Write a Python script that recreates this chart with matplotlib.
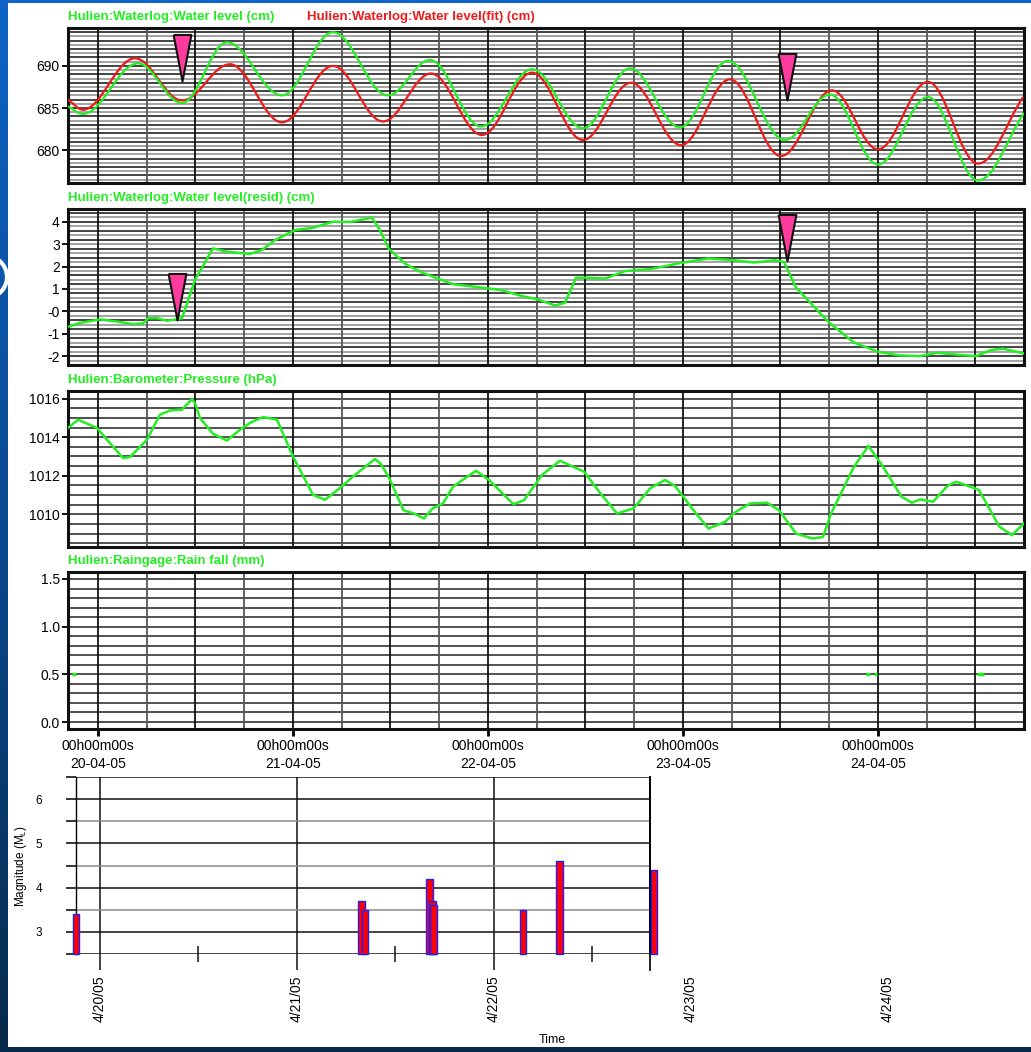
import numpy as np
import matplotlib
matplotlib.use('Agg')
from matplotlib import pyplot as plt
from matplotlib.path import Path
from matplotlib.patches import PathPatch, Rectangle, Circle
from matplotlib.transforms import blended_transform_factory

plt.rcParams['font.family'] = ['Liberation Sans', 'DejaVu Sans']
plt.rcParams['mathtext.default'] = 'regular'

# upper panels: time in hours after 20-04-05 00h00m00s
# water level, observed and fit (turning points of the tide curve)
wl_t = [-3.69, -1.85, 4.92, 10.34, 15.88, 22.65, 28.92, 35.69, 40.86, 47.14, 53.42,
        59.69, 65.48, 71.63, 77.54, 84.55, 90.09, 96.0, 102.15, 108.31, 113.97]
wl_v = [685.2, 684.3, 690.3, 685.6, 692.8, 686.5, 694.0, 686.5, 690.7, 682.8, 689.6,
        682.6, 689.7, 682.7, 690.6, 681.2, 686.6, 678.3, 686.3, 676.4, 684.4]
fit_t = [-3.69, -1.85, 4.55, 10.34, 16.25, 22.65, 28.92, 35.08, 40.99, 47.26, 53.42,
         59.69, 65.60, 71.75, 77.78, 84.06, 90.34, 96.0, 102.15, 108.31, 113.85]
fit_v = [686.0, 684.8, 690.9, 685.9, 690.2, 683.3, 690.0, 683.4, 689.1, 681.8, 689.2,
         681.2, 688.0, 680.6, 688.4, 679.3, 687.1, 680.1, 688.1, 678.4, 686.3]

# residual water level (cm)
resid_t = [-3.69, -2.22, 0.25, 2.34, 4.31, 5.54, 6.15, 7.26, 8.49, 9.72, 10.34, 11.94,
           14.15, 15.88, 18.71, 20.18, 21.78, 24.25, 26.46, 28.92, 31.02, 33.72, 34.46,
           35.82, 37.85, 39.88, 43.69, 46.52, 49.6, 52.18, 54.15, 56.25, 57.48, 58.83,
           60.31, 62.4, 64.92, 67.94, 71.57, 75.14, 78.22, 80.74, 83.32, 84.43, 85.91,
           88.43, 89.97, 93.05, 96.12, 98.65, 101.17, 103.26, 105.8, 108.06, 109.91,
           111.38, 113.97]
resid_v = [-0.69, -0.52, -0.36, -0.46, -0.57, -0.54, -0.31, -0.31, -0.42, -0.36, -0.31, 1.40,
           2.81, 2.66, 2.56, 2.74, 3.18, 3.63, 3.73, 4.0, 3.99, 4.18, 3.78,
           2.78, 2.11, 1.73, 1.21, 1.09, 0.95, 0.68, 0.53, 0.26, 0.38, 1.50,
           1.50, 1.46, 1.80, 1.88, 2.15, 2.36, 2.28, 2.18, 2.28, 2.2, 1.06,
           0.09, -0.50, -1.40, -1.82, -1.97, -2.0, -1.85, -1.94, -2.0, -1.73,
           -1.67, -1.88]

# barometric pressure (hPa)
pres_t = [-3.69, -2.46, -0.12, 1.11, 3.08, 3.94, 6.03, 7.63, 8.86, 10.34, 11.57, 11.94,
          12.55, 14.15, 15.88, 17.48, 18.71, 20.31, 22.03, 24.0, 26.46, 27.94, 29.78,
          31.38, 34.09, 34.83, 35.82, 37.6, 38.89, 40.12, 41.17, 42.46, 43.69, 46.52,
          48.12, 51.14, 52.43, 54.65, 56.86, 59.82, 61.85, 63.88, 65.91, 67.94, 69.78,
          71.02, 73.6, 75.14, 77.17, 78.46, 80.25, 82.34, 83.82, 85.91, 87.94, 89.23,
          90.22, 93.05, 94.83, 96.62, 98.89, 100.18, 101.17, 102.77, 104.55, 105.6,
          107.38, 108.43, 110.95, 112.49, 113.97]
pres_v = [1014.48, 1014.91, 1014.48, 1013.87, 1012.92, 1012.97, 1013.87, 1015.17, 1015.39,
          1015.43, 1015.98, 1015.78, 1015.0, 1014.18, 1013.83, 1014.39, 1014.74, 1015.05,
          1014.91, 1013.0, 1011.01, 1010.75, 1011.36, 1011.96, 1012.87, 1012.6, 1011.9,
          1010.21, 1010.04, 1009.78, 1010.30, 1010.56, 1011.43, 1012.26, 1011.78, 1010.52,
          1010.73, 1012.04, 1012.78, 1012.21, 1011.08, 1010.04, 1010.30, 1011.34, 1011.78,
          1011.47, 1010.04, 1009.26, 1009.60, 1010.12, 1010.56, 1010.60, 1010.21, 1009.0,
          1008.74, 1008.82, 1010.04, 1012.47, 1013.55, 1012.47, 1010.91, 1010.60, 1010.77,
          1010.65, 1011.47, 1011.69, 1011.43, 1011.26, 1009.35, 1008.92, 1009.52]

# rain fall records (start hour, end hour, mm)
rain_t0 = [-3.2, 94.5, 95.5, 108.2]
rain_t1 = [-2.7, 95.0, 95.9, 109.0]
rain_v = [0.5, 0.5, 0.5, 0.5]

# event markers
event_t1 = [10.3, 84.8]
event_v1 = [688.2, 686.0]
event_t2 = [9.7, 84.8]
event_v2 = [-0.39, 2.25]

day_ticks = [0, 24, 48, 72, 96]
day_labels = ['00h00m00s\n20-04-05', '00h00m00s\n21-04-05', '00h00m00s\n22-04-05',
              '00h00m00s\n23-04-05', '00h00m00s\n24-04-05']

# earthquakes: days after 4/20/05 00:00, local magnitude
quake_day = [-0.122, 1.328, 1.346, 1.673, 1.690, 1.693, 2.148, 2.333, 2.814]
quake_mag = [3.4, 3.7, 3.5, 4.2, 3.7, 3.6, 3.5, 4.6, 4.4]
quake_dates = ['4/20/05', '4/21/05', '4/22/05', '4/23/05', '4/24/05']

GREEN = '#22ee22'
RED = '#ee1a1a'
PINK = '#ff3b9d'
T0, T1 = -3.69, 113.97

fig = plt.figure(figsize=(10.31, 10.52), dpi=100)

# slide background
bg = fig.add_axes([0, 0, 1, 1], zorder=-10)
grad = np.linspace(0, 1, 256).reshape(-1, 1)
bg.imshow(grad, aspect='auto', extent=[0, 1, 0, 1], origin='upper',
          cmap=matplotlib.colors.LinearSegmentedColormap.from_list('b', ['#0d63c6', '#0a4a90', '#082a4a']))
bg.add_patch(Circle((-0.14, 7.75), 0.21, transform=fig.dpi_scale_trans, fill=False,
                    ec='white', lw=3))
bg.add_patch(Rectangle((8 / 1031, 1 - 1047 / 1052), 1, 1044 / 1052, transform=bg.transAxes,
                       fc='white', ec='none'))
bg.set_xlim(0, 1)
bg.set_ylim(0, 1)
bg.axis('off')


def tide_path(t, v, k=0.36):
    verts = [(t[0], v[0])]
    codes = [Path.MOVETO]
    n = len(t)
    for i in range(n - 1):
        dt = t[i + 1] - t[i]
        c1 = (t[i] + k * dt, v[i])
        c2 = (t[i + 1] - k * dt, v[i + 1])
        if i == 0:
            c1 = (t[i] + k * dt, v[i] + k * (v[i + 1] - v[i]))
        if i == n - 2:
            c2 = (t[i + 1] - k * dt, v[i + 1] - k * (v[i + 1] - v[i]))
        verts += [c1, c2, (t[i + 1], v[i + 1])]
        codes += [Path.CURVE4] * 3
    return Path(verts, codes)


def panel(rect, ylo, yhi, step, yticks, ylabels, alt=True):
    ax = fig.add_axes(rect)
    ax.set_xlim(T0, T1)
    ax.set_ylim(ylo, yhi)
    lev = np.arange(np.ceil(ylo / step) * step, yhi, step)
    for y in lev:
        if alt:
            c = '#111111' if int(round(y / step)) % 2 == 0 else '#8a8a8a'
        else:
            c = '#222222'
        ax.axhline(y, color=c, lw=1.1, zorder=0)
    for h in range(0, 114, 6):
        c = '#111111' if h % 12 == 0 else '#555555'
        ax.axvline(h, color=c, lw=1.3, zorder=0)
    ax.set_yticks(yticks)
    ax.set_yticklabels(ylabels)
    ax.tick_params(axis='y', direction='out', length=4, width=1.3, labelsize=10, pad=2)
    ax.set_xticks([])
    for s in ax.spines.values():
        s.set_linewidth(2.2)
        s.set_color('#111111')
    return ax


def title(ax, text, color, xfrac=0.0):
    ax.annotate(text, xy=(xfrac, 1), xycoords='axes fraction', xytext=(0, 6),
                textcoords='offset points', va='baseline', ha='left', color=color,
                fontsize=9.5, fontweight='bold')


# panel 1: water level
ax1 = panel([68 / 1031, 1 - 183 / 1052, 956 / 1031, 155 / 1052], 676.1, 694.5, 0.5,
            [680, 685, 690], ['680', '685', '690'])
ax1.add_patch(PathPatch(tide_path(fit_t, fit_v), fill=False, ec=RED, lw=1.6, zorder=3))
ax1.add_patch(PathPatch(tide_path(wl_t, wl_v), fill=False, ec=GREEN, lw=1.6, zorder=4))
title(ax1, 'Hulien:Waterlog:Water level (cm)', GREEN)
title(ax1, 'Hulien:Waterlog:Water level(fit) (cm)', RED, (307 - 68) / 956)

tri = [(-9, 47), (9, 47), (0, 0), (-9, 47)]
ax1.plot(event_t1, event_v1, ls='none', marker=tri, ms=67, mfc=PINK, mec='#111111',
         mew=1.5, zorder=6, clip_on=False)

# panel 2: residual
ax2 = panel([68 / 1031, 1 - 365 / 1052, 956 / 1031, 156 / 1052], -2.4, 4.57, 0.2,
            [-2, -1, 0, 1, 2, 3, 4], ['-2', '-1', '-0', '1', '2', '3', '4'])
ax2.plot(resid_t, resid_v, color=GREEN, lw=1.8, zorder=4)
title(ax2, 'Hulien:Waterlog:Water level(resid) (cm)', GREEN)
ax2.plot(event_t2, event_v2, ls='none', marker=tri, ms=67, mfc=PINK, mec='#111111',
         mew=1.5, zorder=6, clip_on=False)

# panel 3: pressure
ax3 = panel([68 / 1031, 1 - 547 / 1052, 956 / 1031, 156 / 1052], 1008.3, 1016.4, 0.5,
            [1010, 1012, 1014, 1016], ['1010', '1012', '1014', '1016'], alt=False)
ax3.plot(pres_t, pres_v, color=GREEN, lw=1.8, zorder=4)
title(ax3, 'Hulien:Barometer:Pressure (hPa)', GREEN)

# panel 4: rain
ax4 = panel([68 / 1031, 1 - 729 / 1052, 956 / 1031, 157 / 1052], -0.073, 1.573, 0.1,
            [0.0, 0.5, 1.0, 1.5], ['0.0', '0.5', '1.0', '1.5'], alt=False)
ax4.hlines(rain_v, rain_t0, rain_t1, color=GREEN, lw=2.5, zorder=4)
title(ax4, 'Hulien:Raingage:Rain fall (mm)', GREEN)
ax4.set_xticks(day_ticks)
ax4.set_xticklabels(day_labels, linespacing=1.35)
ax4.tick_params(axis='x', direction='out', length=5, width=2, labelsize=10, pad=2)

# bottom panel: earthquakes
ax5 = fig.add_axes([76 / 1031, 1 - 954 / 1052, 574 / 1031, 177 / 1052])
ax5.set_xlim(-0.122, 2.794)
ax5.set_ylim(2.5, 6.5)
ax5.bar(quake_day, np.array(quake_mag) - 2.5, bottom=2.5, width=0.0336, color='#ff0000',
        edgecolor='#2020ff', lw=1.0, clip_on=False, zorder=3)
yt = np.arange(2.5, 6.51, 0.5)
ax5.set_yticks(yt)
ax5.set_yticklabels(['%d' % v if v == int(v) and 3 <= v <= 6 else '' for v in yt])
ax5.tick_params(axis='y', direction='out', length=7.2, width=1.1, labelsize=8.5, pad=17)
ax5.grid(axis='y', lw=1.1)
for tk, v in zip(ax5.yaxis.get_major_ticks(), yt):
    c = '#111111' if v == int(v) or v in (2.5, 6.5) else '#8a8a8a'
    tk.tick1line.set_color(c)
    tk.gridline.set_color(c)
ax5.set_xticks([0, 1, 2])
ax5.set_xticklabels([])
ax5.set_xticks([0.5, 1.5, 2.5], minor=True)
ax5.tick_params(axis='x', which='major', direction='out', length=11.5, width=1.1, color='#111111')
ax5.tick_params(axis='x', which='minor', direction='inout', length=11.5, width=1.1, color='#111111')
ax5.grid(axis='x', which='major', color='#111111', lw=1.1)
for s in ['top', 'bottom']:
    ax5.spines[s].set_visible(False)
ax5.spines['left'].set_linewidth(1.0)
ax5.spines['right'].set_linewidth(1.3)
ax5.axvline(2.794, ymin=-0.09, ymax=1, color='#111111', lw=1.3, clip_on=False)
tr = blended_transform_factory(ax5.transData, ax5.transAxes)
for d, lab in enumerate(quake_dates):
    ax5.text(d, -0.12, lab, transform=tr, rotation=90, ha='center', va='top', fontsize=10,
             clip_on=False)
ax5.set_ylabel('Magnitude (M$_L$)', fontsize=8.5, labelpad=5)
fig.text(552 / 1031, 1 - 1040 / 1052, 'Time', ha='center', va='center', fontsize=9)

fig.savefig('out.png', dpi=100)
